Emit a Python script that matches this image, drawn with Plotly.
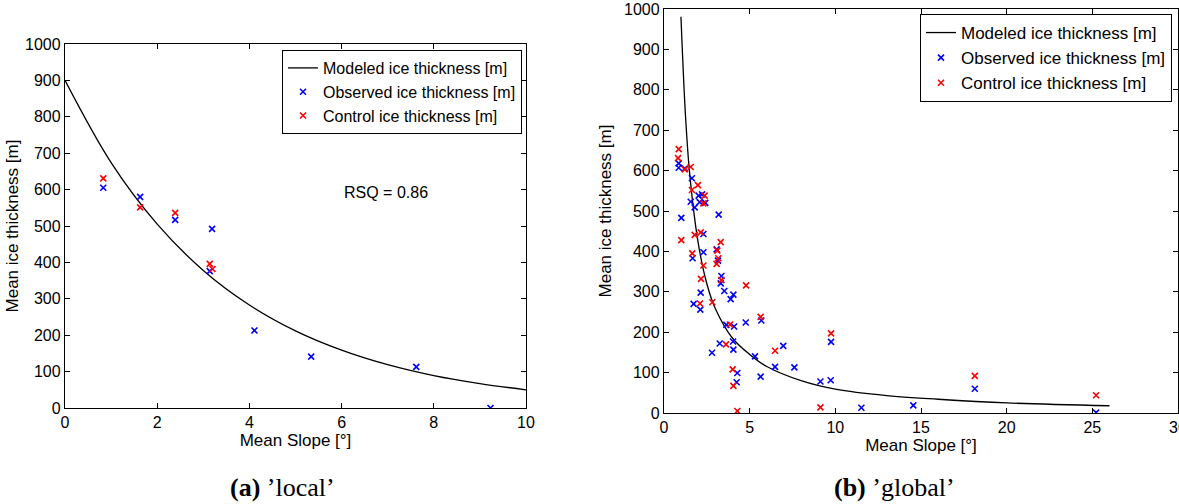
import plotly.graph_objects as go

# ---- (a) 'local' ----
local_obs_slope = [0.83, 1.63, 2.39, 3.19, 3.14, 4.11, 5.34, 7.62, 9.23]
local_obs_thick = [605, 580, 517, 492, 376, 213, 141, 113, 0]
local_ctl_slope = [0.83, 1.63, 2.39, 3.14, 3.20]
local_ctl_thick = [631, 551, 536, 396, 382]
local_model_slope = [0, 1, 2, 3, 4, 5, 6, 7, 8, 9, 10]
local_model_thick = [900, 674, 505, 378, 283, 212, 159, 119, 89, 67, 50]

# ---- (b) 'global' ----
global_obs_slope = [
    0.86, 0.86, 1.21, 1.63, 2.02, 2.22, 1.56, 2.08, 2.41, 1.79, 1.01, 3.19, 2.30,
    2.30, 1.67, 3.07, 3.15, 3.35, 3.31, 3.52, 2.14, 4.05, 3.89, 1.73, 2.12, 3.64,
    4.09, 4.77, 5.68, 3.25, 2.80, 4.03, 4.05, 5.31, 6.96, 6.48, 7.61, 5.64, 4.28,
    4.24, 9.75, 9.13, 9.73, 11.52, 14.55, 18.14, 25.22,
]
global_obs_thick = [
    618, 607, 605, 581, 538, 541, 523, 522, 520, 509, 483, 491, 443,
    398, 383, 405, 377, 339, 321, 302, 298, 293, 282, 270, 256, 218,
    214, 224, 229, 172, 149, 177, 157, 140, 166, 114, 113, 90, 99,
    76, 176, 78, 81, 13, 19, 60, 1,
]
global_ctl_slope = [
    0.86, 0.82, 1.21, 1.56, 1.98, 1.63, 2.37, 2.30, 2.14, 1.79, 1.01,
    3.31, 1.65, 3.11, 3.17, 3.07, 2.30, 2.16, 3.35, 4.79, 2.10, 2.82, 5.64,
    3.85, 3.62, 6.48, 4.01, 4.05, 4.28, 9.75, 9.13, 18.14, 25.22,
]
global_ctl_thick = [
    653, 631, 603, 609, 564, 552, 538, 519, 447, 441, 428,
    423, 395, 402, 383, 369, 365, 332, 329, 316, 271, 274, 238,
    219, 170, 154, 108, 67, 5, 197, 14, 92, 44,
]
global_model_slope = [0.99, 1.25, 1.5, 2, 2.5, 3, 4, 5, 6, 8, 10, 13, 16, 20, 26]
global_model_thick = [981, 739, 592, 420, 320, 258, 185, 145, 115, 80, 59, 43, 34, 25, 18]

FONT = "Liberation Sans"
BLUE = "#0000ff"
RED = "#ff0000"


def model_trace(x, y, xa, ya, legend):
    return go.Scatter(
        x=x, y=y, mode="lines", line=dict(color="black", width=1.3, shape="spline"),
        name="Modeled ice thickness [m]", xaxis=xa, yaxis=ya, legend=legend,
    )


def point_trace(x, y, color, name, xa, ya, legend):
    return go.Scatter(
        x=x, y=y, mode="markers", name=name, xaxis=xa, yaxis=ya, legend=legend,
        marker=dict(symbol="x-thin", size=6, line=dict(color=color, width=1.6)),
    )


fig = go.Figure()
fig.add_trace(model_trace(local_model_slope, local_model_thick, "x", "y", "legend"))
fig.add_trace(point_trace(local_obs_slope, local_obs_thick, BLUE,
                          "Observed ice thickness [m]", "x", "y", "legend"))
fig.add_trace(point_trace(local_ctl_slope, local_ctl_thick, RED,
                          "Control ice thickness [m]", "x", "y", "legend"))
fig.add_trace(model_trace(global_model_slope, global_model_thick, "x2", "y2", "legend2"))
fig.add_trace(point_trace(global_obs_slope, global_obs_thick, BLUE,
                          "Observed ice thickness [m]", "x2", "y2", "legend2"))
fig.add_trace(point_trace(global_ctl_slope, global_ctl_thick, RED,
                          "Control ice thickness [m]", "x2", "y2", "legend2"))

axis_common = dict(
    showline=True, linecolor="black", linewidth=1.3, mirror="ticks",
    ticks="inside", ticklen=5, tickwidth=1, tickcolor="black", automargin=False,
    showgrid=False, zeroline=False, ticklabeloverflow="allow",
    tickfont=dict(family=FONT, size=16, color="black"),
)

W, H = 1179, 504
fig.update_layout(
    width=W, height=H, autosize=False,
    margin=dict(l=0, r=0, t=0, b=0, autoexpand=False),
    paper_bgcolor="white", plot_bgcolor="white",
    font=dict(family=FONT, color="black"),
    xaxis=dict(axis_common, domain=[65 / W, 526 / W], range=[0, 10], dtick=2,
               anchor="y", title=dict(text="Mean Slope [°]", standoff=0,
                                      font=dict(size=17))),
    yaxis=dict(axis_common, domain=[1 - 408 / H, 1 - 44 / H], range=[0, 1000], dtick=100,
               anchor="x", title=dict(text="Mean ice thickness [m]", standoff=2,
                                      font=dict(size=17))),
    xaxis2=dict(axis_common, domain=[664 / W, 1178 / W], range=[0, 30], dtick=5,
                anchor="y2", title=dict(text="Mean Slope [°]", standoff=0,
                                        font=dict(size=17))),
    yaxis2=dict(axis_common, domain=[1 - 413 / H, 1 - 9 / H], range=[0, 1000], dtick=100,
                anchor="x2", title=dict(text="Mean ice thickness [m]", standoff=8,
                                        font=dict(size=17))),
    legend=dict(x=522 / W, y=1 - 50 / H, xanchor="right", yanchor="top",
                bordercolor="black", borderwidth=1, bgcolor="white",
                font=dict(family=FONT, size=16), tracegroupgap=0),
    legend2=dict(x=1172 / W, y=1 - 14 / H, xanchor="right", yanchor="top",
                 bordercolor="black", borderwidth=1, bgcolor="white",
                 font=dict(family=FONT, size=17), tracegroupgap=0),
    showlegend=True,
)

fig.add_annotation(x=6.96, y=593, xref="x", yref="y", text="RSQ = 0.86",
                   showarrow=False, font=dict(family=FONT, size=16))
fig.add_annotation(x=282 / W, y=1 - 487 / H, xref="paper", yref="paper",
                   xanchor="center", yanchor="middle",
                   text="<b>(a)</b> ’local’", showarrow=False,
                   font=dict(family="Liberation Serif", size=26))
fig.add_annotation(x=894 / W, y=1 - 487 / H, xref="paper", yref="paper",
                   xanchor="center", yanchor="middle",
                   text="<b>(b)</b> ’global’", showarrow=False,
                   font=dict(family="Liberation Serif", size=26))

# the page's default 8px body margin would shift the whole figure
fig.write_html("out.html", config={"displayModeBar": False},
               post_script="document.body.style.margin = '0';")
